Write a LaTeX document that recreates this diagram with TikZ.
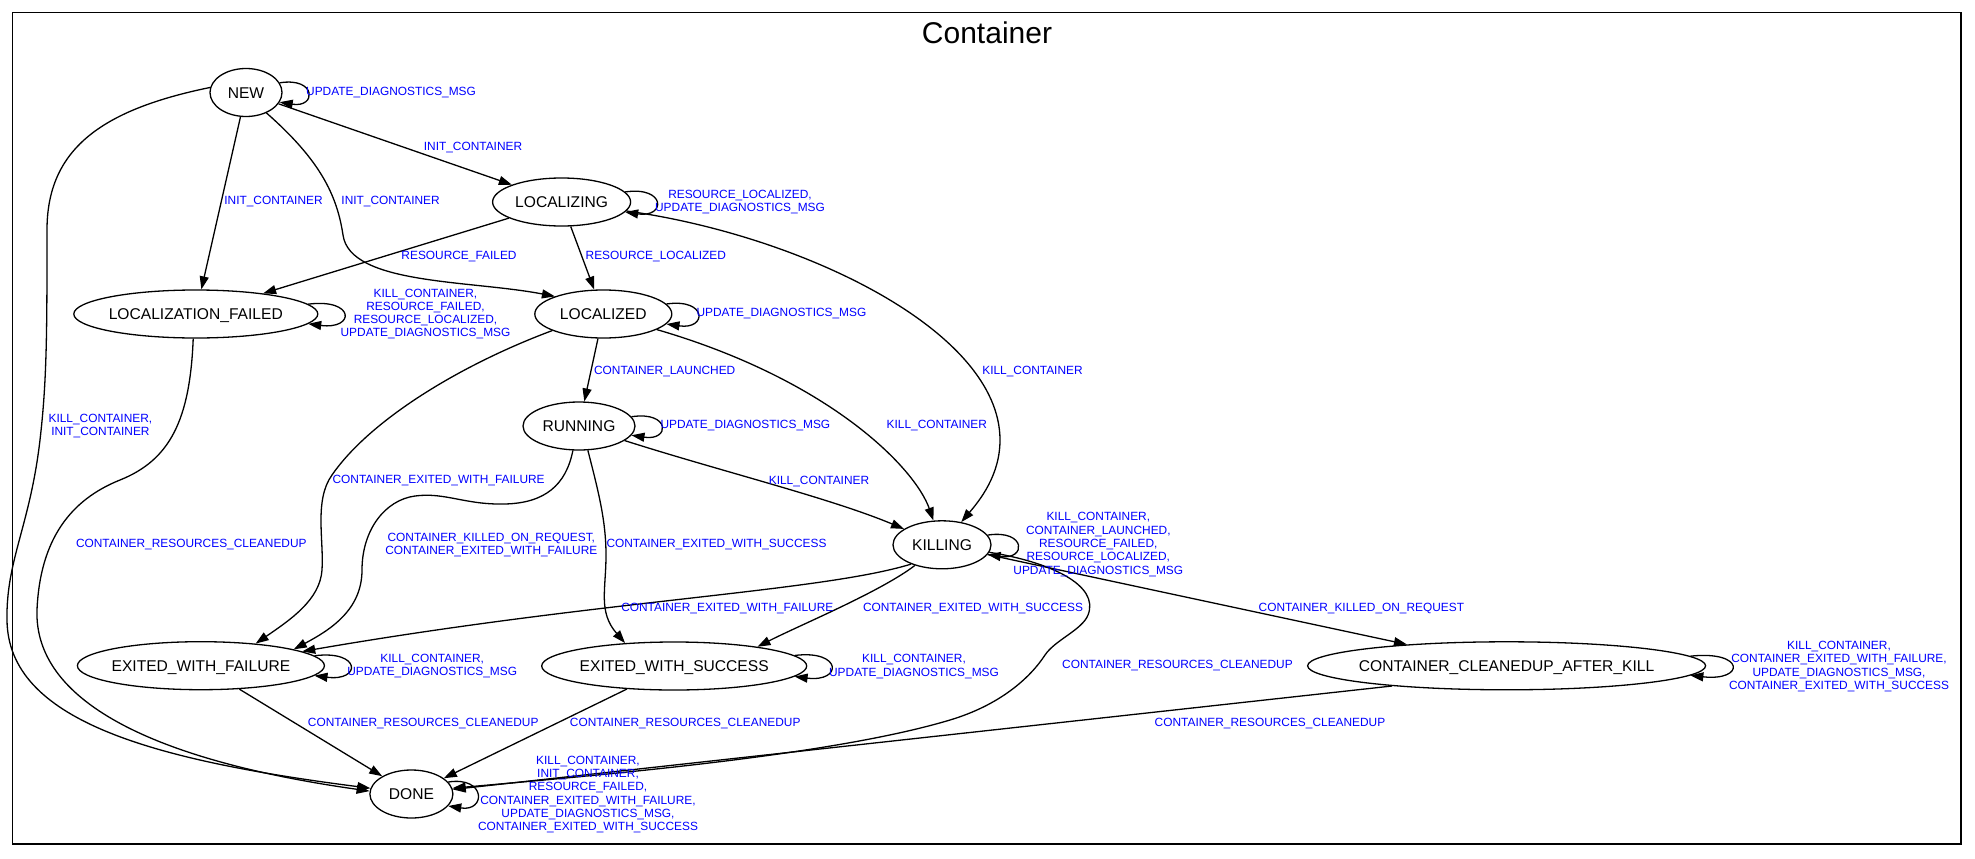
\documentclass[tikz,border=0pt]{standalone}
\usepackage{fontspec}
\setmainfont{Liberation Sans}
\usetikzlibrary{shapes.geometric, arrows.meta}

% state text that does not widen the ellipse
\newcommand{\statename}[1]{\makebox[0pt]{#1}}

\begin{document}
\begin{tikzpicture}[x=1pt, y=-1pt, >={Triangle[length=13pt,width=9pt]},
    state/.style={draw, ellipse, line width=1.3pt, inner sep=0pt, minimum height=48pt,
        text height=11pt, text depth=0pt, font=\fontsize{15.6}{18}\selectfont},
    trans/.style={->, line width=1.3pt},
    evt/.style={text=blue, inner sep=0pt, align=center, font=\fontsize{11.9}{13.3}\selectfont}]
    \useasboundingbox (0,0) rectangle (1975,859);

    % cluster frame and title
    \draw[line width=1.3pt] (12.5,12.7) rectangle (1961,844);
    \node[anchor=base, font=\fontsize{30}{36}\selectfont] (title) at (987,43.3) {Container};

    % states
    \node[state, minimum width=72pt] (new) at (246,92.5) {\statename{NEW}};
    \node[state, minimum width=138pt] (localizing) at (561.6,202) {\statename{LOCALIZING}};
    \node[state, minimum width=244pt] (locfailed) at (195.8,314) {\statename{LOCALIZATION\_FAILED}};
    \node[state, minimum width=137pt] (localized) at (603.3,314) {\statename{LOCALIZED}};
    \node[state, minimum width=112pt] (running) at (579,426) {\statename{RUNNING}};
    \node[state, minimum width=98pt] (killing) at (942,544.8) {\statename{KILLING}};
    \node[state, minimum width=247pt] (exfail) at (200.9,665.7) {\statename{EXITED\_WITH\_FAILURE}};
    \node[state, minimum width=265pt] (exsucc) at (674.2,666) {\statename{EXITED\_WITH\_SUCCESS}};
    \node[state, minimum width=398pt] (cleanup) at (1506.6,665.8) {\statename{CONTAINER\_CLEANEDUP\_AFTER\_KILL}};
    \node[state, minimum width=83pt] (done) at (411.4,794) {\statename{DONE}};

    % straight transitions
    \draw[trans] (new) -- (localizing);
    \draw[trans] (new) -- (locfailed);
    \draw[trans] (localizing) -- (locfailed);
    \draw[trans] (localizing) -- (localized);
    \draw[trans] (localized) -- (running);
    \draw[trans] (killing) -- (cleanup);
    \draw[trans] (exfail) -- (done);
    \draw[trans] (exsucc) -- (done);
    \draw[trans] (cleanup.190) -- (done);

    % curved transitions
    \draw[trans] (new.-45) .. controls (320,160) and (337,195) .. (343,235)
        .. controls (350,285) and (470,280) .. (localized.160);
    \draw[trans] (new.172) .. controls (100,110) and (47,150) .. (47,230)
        .. controls (47,330) and (47,380) .. (40,440)
        .. controls (30,526) and (6,560) .. (7,620)
        .. controls (8,720) and (150,760) .. (done.172);
    \draw[trans] (locfailed.-96) .. controls (190,420) and (170,460) .. (120,480)
        .. controls (70,500) and (40,540) .. (37,610)
        .. controls (34,700) and (150,760) .. (done.176);
    \draw[trans] (localizing) .. controls (800,235) and (1000,330) .. (1000,440)
        .. controls (1000,475) and (980,500) .. (killing);
    \draw[trans] (localized) .. controls (830,380) and (915,468) .. (killing);
    \draw[trans] (running) .. controls (720,471) and (830,498) .. (killing);
    \draw[trans] (localized.198) .. controls (460,365) and (370,420) .. (332,475)
        .. controls (314,500) and (324,540) .. (322,570)
        .. controls (320,600) and (290,620) .. (exfail.22);
    \draw[trans] (running.-104) .. controls (566,485) and (545,503) .. (505,504)
        .. controls (465,505) and (445,492) .. (415,496)
        .. controls (385,500) and (362,530) .. (362,570)
        .. controls (362,610) and (330,630) .. (exfail.10);
    \draw[trans] (running.-70) .. controls (598,490) and (606,520) .. (606,555)
        .. controls (606,590) and (598,612) .. (exsucc.155);
    \draw[trans] (killing.212) .. controls (820,592) and (600,600) .. (exfail.8);
    \draw[trans] (killing) .. controls (880,592) and (800,625) .. (exsucc.13);
    \draw[trans] (killing.-9) .. controls (1050,562) and (1100,585) .. (1088,615)
        .. controls (1082,630) and (1055,640) .. (1045,655)
        .. controls (1030,678) and (1000,705) .. (950,720)
        .. controls (830,756) and (600,775) .. (done.8);

    % self loops
    \draw[trans] (new.16) .. controls +(37,-6) and +(37,6) .. (new.-16);
    \draw[trans] (localizing.9) .. controls +(41,-6) and +(41,6) .. (localizing.-9);
    \draw[trans] (locfailed.5) .. controls +(47,-6) and +(47,6) .. (locfailed.-5);
    \draw[trans] (localized.9) .. controls +(41,-6) and +(41,6) .. (localized.-9);
    \draw[trans] (running.10) .. controls +(39,-6) and +(39,6) .. (running.-10);
    \draw[trans] (killing.12) .. controls +(39,-6) and +(39,6) .. (killing.-12);
    \draw[trans] (exfail.5) .. controls +(47,-6) and +(47,6) .. (exfail.-5);
    \draw[trans] (exsucc.5) .. controls +(48,-6) and +(48,6) .. (exsucc.-5);
    \draw[trans] (cleanup.3) .. controls +(55,-6) and +(55,6) .. (cleanup.-3);
    \draw[trans] (done.18) .. controls +(38,-6) and +(38,6) .. (done.-18);

    % event labels
    \node[evt, anchor=west] (l-new-loop) at (306,93) {UPDATE\_DIAGNOSTICS\_MSG};
    \node[evt] (l-new-loc) at (473,148) {INIT\_CONTAINER};
    \node[evt] (l-new-lf) at (273.5,202) {INIT\_CONTAINER};
    \node[evt] (l-new-ld) at (390.6,202) {INIT\_CONTAINER};
    \node[evt] (l-loc-loop) at (740,202.3) {RESOURCE\_LOCALIZED,\\UPDATE\_DIAGNOSTICS\_MSG};
    \node[evt] (l-loc-lf) at (459,257) {RESOURCE\_FAILED};
    \node[evt] (l-loc-ld) at (655.8,257) {RESOURCE\_LOCALIZED};
    \node[evt] (l-lf-loop) at (425.5,314) {KILL\_CONTAINER,\\RESOURCE\_FAILED,\\RESOURCE\_LOCALIZED,\\UPDATE\_DIAGNOSTICS\_MSG};
    \node[evt, anchor=west] (l-ld-loop) at (696.4,314) {UPDATE\_DIAGNOSTICS\_MSG};
    \node[evt] (l-ld-run) at (664.7,372) {CONTAINER\_LAUNCHED};
    \node[evt] (l-loc-kill) at (1032.5,372) {KILL\_CONTAINER};
    \node[evt, anchor=west] (l-run-loop) at (660.3,426) {UPDATE\_DIAGNOSTICS\_MSG};
    \node[evt] (l-ld-kill) at (936.8,426) {KILL\_CONTAINER};
    \node[evt] (l-run-kill) at (819,481.3) {KILL\_CONTAINER};
    \node[evt] (l-new-done) at (100.4,426.3) {KILL\_CONTAINER,\\INIT\_CONTAINER};
    \node[evt] (l-ld-ef) at (438.6,480.8) {CONTAINER\_EXITED\_WITH\_FAILURE};
    \node[evt] (l-lf-done) at (191.3,544.5) {CONTAINER\_RESOURCES\_CLEANEDUP};
    \node[evt] (l-run-ef) at (491.3,544.8) {CONTAINER\_KILLED\_ON\_REQUEST,\\CONTAINER\_EXITED\_WITH\_FAILURE};
    \node[evt, anchor=west] (l-run-es) at (606.3,544.5) {CONTAINER\_EXITED\_WITH\_SUCCESS};
    \node[evt] (l-kill-loop) at (1098.3,544.6) {KILL\_CONTAINER,\\CONTAINER\_LAUNCHED,\\RESOURCE\_FAILED,\\RESOURCE\_LOCALIZED,\\UPDATE\_DIAGNOSTICS\_MSG};
    \node[evt] (l-kill-ef) at (727.3,609) {CONTAINER\_EXITED\_WITH\_FAILURE};
    \node[evt] (l-kill-es) at (973,609) {CONTAINER\_EXITED\_WITH\_SUCCESS};
    \node[evt] (l-kill-cl) at (1361.4,609) {CONTAINER\_KILLED\_ON\_REQUEST};
    \node[evt] (l-kill-done) at (1177.5,665.3) {CONTAINER\_RESOURCES\_CLEANEDUP};
    \node[evt] (l-ef-loop) at (432.2,666.2) {KILL\_CONTAINER,\\UPDATE\_DIAGNOSTICS\_MSG};
    \node[evt] (l-es-loop) at (914,666.5) {KILL\_CONTAINER,\\UPDATE\_DIAGNOSTICS\_MSG};
    \node[evt] (l-cl-loop) at (1839,666.5) {KILL\_CONTAINER,\\CONTAINER\_EXITED\_WITH\_FAILURE,\\UPDATE\_DIAGNOSTICS\_MSG,\\CONTAINER\_EXITED\_WITH\_SUCCESS};
    \node[evt] (l-ef-done) at (423.2,723.7) {CONTAINER\_RESOURCES\_CLEANEDUP};
    \node[evt] (l-es-done) at (685.2,723.7) {CONTAINER\_RESOURCES\_CLEANEDUP};
    \node[evt] (l-cl-done) at (1270,723.7) {CONTAINER\_RESOURCES\_CLEANEDUP};
    \node[evt] (l-done-loop) at (588,794.6) {KILL\_CONTAINER,\\INIT\_CONTAINER,\\RESOURCE\_FAILED,\\CONTAINER\_EXITED\_WITH\_FAILURE,\\UPDATE\_DIAGNOSTICS\_MSG,\\CONTAINER\_EXITED\_WITH\_SUCCESS};
\end{tikzpicture}
\end{document}
